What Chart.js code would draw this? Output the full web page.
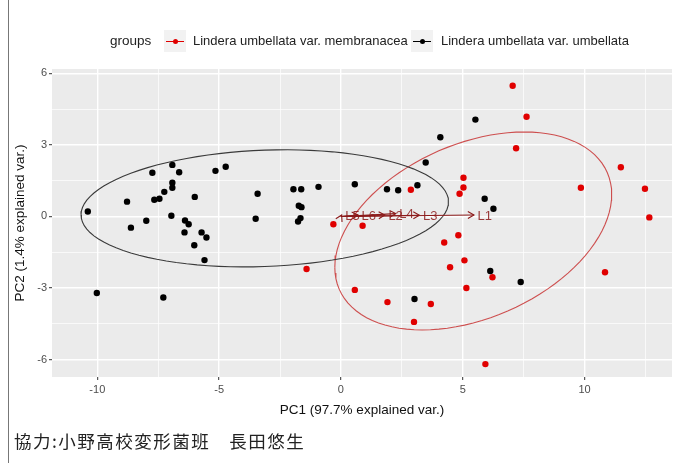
<!DOCTYPE html>
<html lang="ja">
<head>
<meta charset="UTF-8">
<title>PCA biplot</title>
<script src="https://cdn.jsdelivr.net/npm/chart.js"></script>
<style>
  body { margin: 0; background: #fff; }
  #wrap { position: relative; width: 676px; height: 463px; overflow: hidden; }
  #grafico { position: absolute; left: 0; top: 0; }
  #borda { position: absolute; left: 8px; top: 0; width: 1px; height: 463px; background: #777; }
  #legenda { position: absolute; top: 0; left: 0; width: 676px; height: 80px;
             font-family: "Liberation Sans", Arial, sans-serif; color: #222; white-space: nowrap; }
  #legenda span { position: absolute; top: 33px; line-height: 16px; font-size: 13px; }
  #legenda .titulo { left: 110px; font-size: 13.5px; }
  #legenda .chave { top: 30px; width: 22px; height: 22px; background: #F2F2F2; }
  #legenda .chave i { position: absolute; left: 2px; right: 2px; top: 10.5px; height: 1px; }
  #legenda .chave b { position: absolute; left: 8.5px; top: 8.5px; width: 5px; height: 5px; border-radius: 50%; }
  #credito { position: absolute; left: 14px; top: 428px; font-family: "Noto Sans CJK JP", sans-serif;
             font-size: 17.5px; color: #222; letter-spacing: 1.5px; }
</style>
</head>
<body>
<div id="wrap">
  <canvas id="grafico" width="676" height="463"></canvas>
  <div id="borda"></div>
  <div id="legenda">
    <span class="titulo">groups</span>
    <span class="chave" style="left:164px"><i style="background:#E00000"></i><b style="background:#E00000"></b></span>
    <span style="left:193px">Lindera umbellata var. membranacea</span>
    <span class="chave" style="left:411px"><i style="background:#000"></i><b style="background:#000"></b></span>
    <span style="left:441px">Lindera umbellata var. umbellata</span>
  </div>
  <div id="credito">協力:小野高校変形菌班　長田悠生</div>
</div>

<script>
  // grupos
  const grupos = ['Lindera umbellata var. membranacea', 'Lindera umbellata var. umbellata'];

  // PC1 / PC2 - var. membranacea (vermelho)
  const membX = [2.87, -0.31, 0.89, 4.24, -1.41, 0.57, 1.91, 3.69, 7.05, 7.62, 7.19, 11.49, 5.03,
                 5.03, 9.85, 12.48, 4.87, 12.66, 4.82, 5.07, 4.48, 6.22, 10.84, 5.15, 3.00, 5.93];
  const membY = [1.12, -0.33, -0.39, -1.09, -2.20, -3.08, -3.59, -3.67, 5.48, 4.18, 2.86, 2.06, 1.62,
                 1.21, 1.20, 1.16, 0.95, -0.04, -0.79, -1.84, -2.13, -2.55, -2.34, -3.00, -4.42, -6.19];

  // PC1 / PC2 - var. umbellata (preto)
  const umbX = [-6.92, -7.74, -6.64, -5.15, -4.73, -6.92, -6.92, -7.25, -8.78, -7.66, -7.45, -6.00,
                -3.42, -10.39, -7.99, -6.96, -6.40, -6.25, -8.62, -6.42, -5.72, -5.52, -6.02, -3.50,
                -5.60, -10.02, -7.29, 3.48, -1.95, -1.63, -0.92, 0.57, 1.89, 2.35, 3.14, -1.73, -1.62,
                -1.66, -1.76, 3.02, 5.52, 4.08, 5.90, 6.26, 6.13, 7.38];
  const umbY = [2.16, 1.83, 1.85, 1.91, 2.08, 1.41, 1.20, 1.03, 0.62, 0.70, 0.74, 0.82,
                0.95, 0.21, -0.18, 0.03, -0.17, -0.33, -0.47, -0.67, -0.67, -0.88, -1.21, -0.10,
                -1.83, -3.21, -3.40, 2.26, 1.14, 1.14, 1.24, 1.35, 1.14, 1.10, 1.31, 0.45, 0.39,
                -0.07, -0.21, -3.46, 4.06, 3.32, 0.74, 0.32, -2.29, -2.75];

  // vetores das variaveis (setas)
  const varNomes = ['L1', 'L2', 'L3', 'L4', 'L5', 'L6'];
  const varX = [5.46, 1.80, 3.22, 2.25, 0.03, 0.70];
  const varY = [0.06, 0.06, 0.05, 0.12, 0.06, 0.06];

  // ticks
  const xTicks = [-10, -5, 0, 5, 10];
  const yTicks = [-6, -3, 0, 3, 6];
  const xMinor = [-7.5, -2.5, 2.5, 7.5, 12.5];
  const yMinor = [-4.5, -1.5, 1.5, 4.5];

  const vermelho = '#E00000';
  const preto = '#000000';

  function pontos(xs, ys) {
    return xs.map((x, i) => ({ x: x, y: ys[i] }));
  }

  // elipse normal (prob 0.68) como no ggbiplot, calculada dos pontos do grupo
  function elipse(xs, ys) {
    const n = xs.length;
    const mx = xs.reduce((a, b) => a + b, 0) / n;
    const my = ys.reduce((a, b) => a + b, 0) / n;
    let sxx = 0, syy = 0, sxy = 0;
    for (let i = 0; i < n; i++) {
      sxx += (xs[i] - mx) ** 2;
      syy += (ys[i] - my) ** 2;
      sxy += (xs[i] - mx) * (ys[i] - my);
    }
    sxx /= n - 1; syy /= n - 1; sxy /= n - 1;
    const r11 = Math.sqrt(sxx), r12 = sxy / r11, r22 = Math.sqrt(syy - r12 * r12);
    const ed = Math.sqrt(-2 * Math.log(1 - 0.68));
    const out = [];
    for (let k = 0; k <= 100; k++) {
      const t = -Math.PI + 2 * Math.PI * k / 100;
      const c = Math.cos(t), s = Math.sin(t);
      out.push({ x: mx + ed * c * r11, y: my + ed * (c * r12 + s * r22) });
    }
    return out;
  }

  const fundoPainel = {
    id: 'fundoPainel',
    beforeDraw(chart) {
      const a = chart.chartArea, ctx = chart.ctx;
      ctx.save();
      ctx.fillStyle = '#EBEBEB';
      ctx.fillRect(a.left, a.top, a.right - a.left, a.bottom - a.top);
      ctx.restore();
    }
  };

  const setas = {
    id: 'setas',
    afterDatasetsDraw(chart) {
      const ctx = chart.ctx, sx = chart.scales.x, sy = chart.scales.y;
      const x0 = sx.getPixelForValue(0), y0 = sy.getPixelForValue(0);
      ctx.save();
      ctx.strokeStyle = '#8B1A1A';
      ctx.fillStyle = '#8B1A1A';
      ctx.lineWidth = 1.1;
      ctx.font = '13px "Liberation Sans", Arial, sans-serif';
      ctx.textBaseline = 'middle';
      varNomes.forEach((nome, i) => {
        const x1 = sx.getPixelForValue(varX[i]), y1 = sy.getPixelForValue(varY[i]);
        const ang = Math.atan2(y1 - y0, x1 - x0);
        ctx.beginPath();
        ctx.moveTo(x0, y0);
        ctx.lineTo(x1, y1);
        ctx.stroke();
        const L = 7, a = Math.PI / 6;
        ctx.beginPath();
        ctx.moveTo(x1 - L * Math.cos(ang - a), y1 - L * Math.sin(ang - a));
        ctx.lineTo(x1, y1);
        ctx.lineTo(x1 - L * Math.cos(ang + a), y1 - L * Math.sin(ang + a));
        ctx.stroke();
        const w = ctx.measureText(nome).width;
        ctx.globalAlpha = 0.85;
        ctx.fillText(nome, x1 + 0.25 * w, y1 + 1);
        ctx.globalAlpha = 1;
      });
      ctx.restore();
    }
  };

  function isMajor(v, lista) {
    return lista.some(t => Math.abs(t - v) < 1e-6);
  }

  const fonteTick = { family: '"Liberation Sans", Arial, sans-serif', size: 11 };
  const fonteTitulo = { family: '"Liberation Sans", Arial, sans-serif', size: 13.5 };

  const config = {
    type: 'scatter',
    data: {
      datasets: [
        {
          label: 'elipse umbellata',
          data: elipse(umbX, umbY),
          showLine: true, pointRadius: 0, borderColor: '#3A3A3A', borderWidth: 1.1, fill: false
        },
        {
          label: 'elipse membranacea',
          data: elipse(membX, membY),
          showLine: true, pointRadius: 0, borderColor: 'rgba(200,50,50,0.85)', borderWidth: 1.1, fill: false
        },
        {
          label: grupos[1],
          data: pontos(umbX, umbY),
          pointRadius: 3.2, pointBackgroundColor: preto, pointBorderWidth: 0, borderColor: preto
        },
        {
          label: grupos[0],
          data: pontos(membX, membY),
          pointRadius: 3.2, pointBackgroundColor: vermelho, pointBorderWidth: 0, borderColor: vermelho
        }
      ]
    },
    options: {
      responsive: false,
      animation: false,
      layout: { padding: { left: 8, top: 69, right: 0, bottom: 43 } },
      plugins: { legend: { display: false }, tooltip: { enabled: false } },
      scales: {
        x: {
          type: 'linear', min: -11.86, max: 13.59,
          afterBuildTicks: s => { s.ticks = xTicks.concat(xMinor).sort((a, b) => a - b).map(v => ({ value: v })); },
          afterFit: s => { s.height = 43; },
          border: { display: false },
          grid: {
            color: '#FFFFFF',
            lineWidth: c => isMajor(c.tick.value, xTicks) ? 1.4 : 0.7,
            tickColor: c => isMajor(c.tick.value, xTicks) ? '#333333' : 'rgba(0,0,0,0)',
            tickLength: 3, tickWidth: 1
          },
          ticks: {
            autoSkip: false, maxRotation: 0, padding: 3, color: '#4D4D4D', font: fonteTick,
            callback: v => isMajor(v, xTicks) ? String(v) : ''
          },
          title: { display: true, text: 'PC1 (97.7% explained var.)', color: '#111', font: fonteTitulo, padding: { top: 2, bottom: 2 } }
        },
        y: {
          type: 'linear', min: -6.73, max: 6.18,
          afterBuildTicks: s => { s.ticks = yTicks.concat(yMinor).sort((a, b) => a - b).map(v => ({ value: v })); },
          afterFit: s => { s.width = 44; },
          border: { display: false },
          grid: {
            color: '#FFFFFF',
            lineWidth: c => isMajor(c.tick.value, yTicks) ? 1.4 : 0.7,
            tickColor: c => isMajor(c.tick.value, yTicks) ? '#333333' : 'rgba(0,0,0,0)',
            tickLength: 3, tickWidth: 1
          },
          ticks: {
            autoSkip: false, padding: 2, color: '#4D4D4D', font: fonteTick,
            callback: v => isMajor(v, yTicks) ? String(v) : ''
          },
          title: { display: true, text: 'PC2 (1.4% explained var.)', color: '#111', font: fonteTitulo, padding: { top: 4, bottom: 2 } }
        }
      }
    },
    plugins: [fundoPainel, setas]
  };

  new Chart(document.getElementById('grafico').getContext('2d'), config);
</script>
</body>
</html>
